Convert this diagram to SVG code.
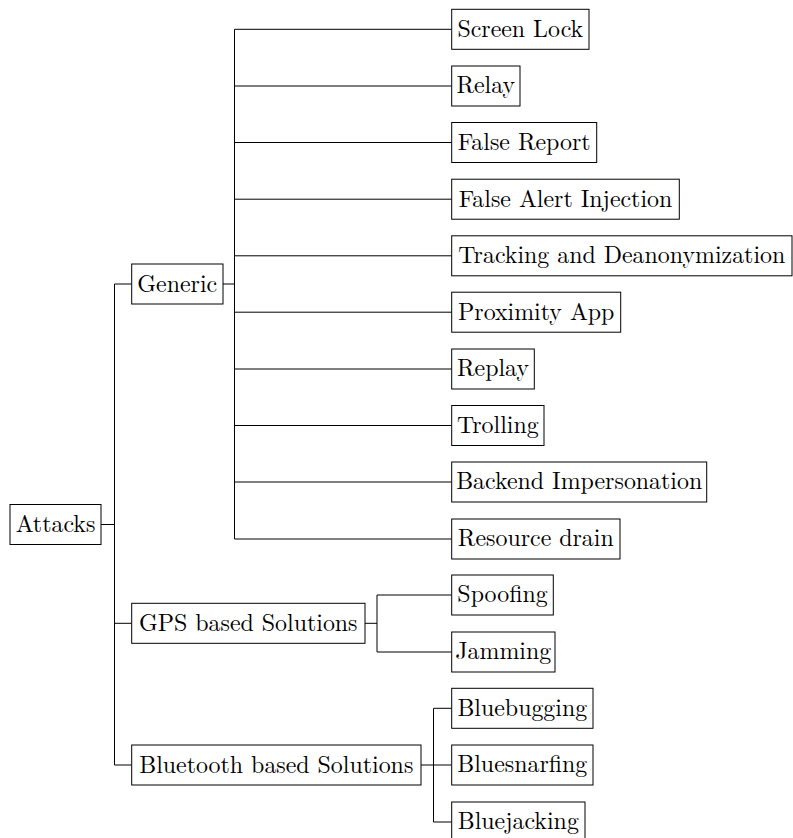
<svg xmlns="http://www.w3.org/2000/svg" width="793" height="838" viewBox="0 0 793 838">
  <style>
    .box { fill: #ffffff; stroke: #000000; stroke-width: 1; }
    .lbl { font-family: "Latin Modern Roman", "Liberation Serif", serif; font-size: 23.9px; fill: #000000; text-anchor: middle; }
    .wire { fill: none; stroke: #000000; stroke-width: 1; }
  </style>
  <rect width="793" height="838" fill="#ffffff"/>

  <!-- tree connectors -->
  <g id="connectors" class="wire">
    <path d="M101,524.5 H114.5 M114.5,284 V765 M114.5,284 H131.7 M114.5,623.3 H131.7 M114.5,765 H131.7"/>
    <path d="M223,284 H234.5 M234.5,29.3 V539 M234.5,29.3 H451.7 M234.5,86 H451.7 M234.5,142.5 H451.7 M234.5,199.2 H451.7 M234.5,255.8 H451.7 M234.5,312.2 H451.7 M234.5,369 H451.7 M234.5,425.5 H451.7 M234.5,482 H451.7 M234.5,539 H451.7"/>
    <path d="M365,623.3 H377 M377,595 V652 M377,595 H451.7 M377,652 H451.7"/>
    <path d="M421,765 H433.5 M433.5,708.3 V822 M433.5,708.3 H451.7 M433.5,765 H451.7 M433.5,822 H451.7"/>
  </g>

  <!-- root -->
  <g id="attacks">
    <rect class="box" x="10" y="504.5" width="91" height="40"/>
    <text class="lbl" x="55.5" y="532">Attacks</text>
  </g>

  <!-- first level -->
  <g id="generic">
    <rect class="box" x="131.7" y="264" width="91.3" height="40"/>
    <text class="lbl" x="177.3" y="291.5">Generic</text>
  </g>
  <g id="gps">
    <rect class="box" x="131.7" y="603.3" width="233.3" height="40"/>
    <text class="lbl" x="248.3" y="630.8">GPS based Solutions</text>
  </g>
  <g id="bluetooth">
    <rect class="box" x="131.7" y="745" width="289.3" height="40"/>
    <text class="lbl" x="276.3" y="772.5">Bluetooth based Solutions</text>
  </g>

  <!-- generic attacks -->
  <g id="screen-lock">
    <rect class="box" x="451.7" y="9.3" width="137.3" height="40"/>
    <text class="lbl" x="520.3" y="36.6">Screen Lock</text>
  </g>
  <g id="relay">
    <rect class="box" x="451.7" y="66" width="68.3" height="40"/>
    <text class="lbl" x="485.8" y="93.3">Relay</text>
  </g>
  <g id="false-report">
    <rect class="box" x="451.7" y="122.5" width="145" height="40"/>
    <text class="lbl" x="524.2" y="149.8">False Report</text>
  </g>
  <g id="false-alert">
    <rect class="box" x="451.7" y="179.2" width="227.6" height="40"/>
    <text class="lbl" x="565.5" y="206.5">False Alert Injection</text>
  </g>
  <g id="tracking">
    <rect class="box" x="451.7" y="235.8" width="340.3" height="40"/>
    <text class="lbl" x="621.8" y="263.1">Tracking and Deanonymization</text>
  </g>
  <g id="proximity">
    <rect class="box" x="451.7" y="292.2" width="169" height="40"/>
    <text class="lbl" x="536.2" y="319.5">Proximity App</text>
  </g>
  <g id="replay">
    <rect class="box" x="451.7" y="349" width="82.6" height="40"/>
    <text class="lbl" x="493" y="376.3">Replay</text>
  </g>
  <g id="trolling">
    <rect class="box" x="451.7" y="405.5" width="92.3" height="40"/>
    <text class="lbl" x="497.8" y="432.8">Trolling</text>
  </g>
  <g id="backend">
    <rect class="box" x="451.7" y="462" width="255" height="40"/>
    <text class="lbl" x="579.2" y="489.3">Backend Impersonation</text>
  </g>
  <g id="resource-drain">
    <rect class="box" x="451.7" y="519" width="168.3" height="40"/>
    <text class="lbl" x="535.8" y="546.3">Resource drain</text>
  </g>

  <!-- GPS attacks -->
  <g id="spoofing">
    <rect class="box" x="451.7" y="575" width="101.6" height="40"/>
    <text class="lbl" x="502.5" y="602.3">Spoofing</text>
  </g>
  <g id="jamming">
    <rect class="box" x="451.7" y="632" width="103.3" height="40"/>
    <text class="lbl" x="503.3" y="659.3">Jamming</text>
  </g>

  <!-- Bluetooth attacks -->
  <g id="bluebugging">
    <rect class="box" x="451.7" y="688.3" width="141.3" height="40"/>
    <text class="lbl" x="522.3" y="715.6">Bluebugging</text>
  </g>
  <g id="bluesnarfing">
    <rect class="box" x="451.7" y="745" width="141.3" height="40"/>
    <text class="lbl" x="522.3" y="772.3">Bluesnarfing</text>
  </g>
  <g id="bluejacking">
    <rect class="box" x="451.7" y="802" width="133.3" height="40"/>
    <text class="lbl" x="518.3" y="829.3">Bluejacking</text>
  </g>
</svg>
